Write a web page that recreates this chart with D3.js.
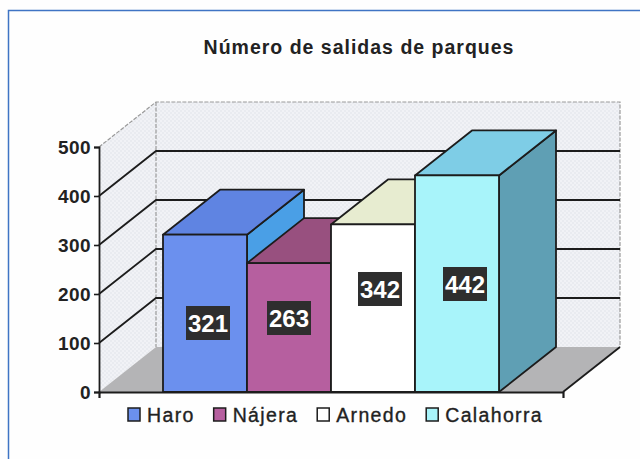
<!DOCTYPE html>
<html>
<head>
<meta charset="utf-8">
<script src="https://cdn.jsdelivr.net/npm/d3@7"></script>
<style>
html,body{margin:0;padding:0;background:#fefefe;overflow:hidden}
text{font-family:"Liberation Sans",Arial,sans-serif;fill:#222}
</style>
</head>
<body>
<script>
var categories=["Haro","Nájera","Arnedo","Calahorra"];
var values=[321,263,342,442];
var yTicks=[0,100,200,300,400,500];
var titleText="Número de salidas de parques";

var frontColors=["#6b90ee","#b65f9f","#ffffff","#a8f4fa"];
var topColors=["#5f84e2","#98507f","#e7ecd0","#7ecde6"];
var sideColors=["#4a9fe6","#7a3d66","#d8d8d8","#5f9fb4"];
// hand placed label centres, relative to the middle of each bar / to the floor
var labelDx=[3,0,7,8];
var labelY=[323,318,289,284];

var depthX=57,depthY=-45;
var line="#1c1c1c";

var svg=d3.select("body").append("svg").attr("width",640).attr("height",459);

var defs=svg.append("defs");
var pat=defs.append("pattern").attr("id","dots").attr("width",4).attr("height",4).attr("patternUnits","userSpaceOnUse");
pat.append("rect").attr("width",4).attr("height",4).attr("fill","#e9ebf0");
pat.append("circle").attr("cx",1).attr("cy",1).attr("r",1).attr("fill","#f4f5f8");
pat.append("circle").attr("cx",3).attr("cy",3).attr("r",1).attr("fill","#f4f5f8");

// scanned page frame
svg.append("path").attr("d","M8.5,459V10.5H640").attr("fill","none")
	.attr("stroke","#3f74c4").attr("stroke-width",1.5);

svg.append("text").attr("x",359).attr("y",54).attr("text-anchor","middle")
	.style("font-size","19.5px").style("font-weight","bold").style("letter-spacing","1px")
	.text(titleText);

var y=d3.scaleLinear().domain([0,500]).range([392,147]);
var xPlot=d3.scaleLinear().domain([0,1]).range([99,563]);
var x=d3.scaleBand().domain(categories).range([163,499]);

function pts(a){return a.map(function(p){return p.join(",")}).join(" ")}

var x0=xPlot(0),x1=xPlot(1),y0=y(0),yTop=y(500);

// walls and floor
svg.append("polygon").attr("fill","url(#dots)")
	.attr("points",pts([[x0+depthX,yTop+depthY],[x1+depthX,yTop+depthY],[x1+depthX,y0+depthY],[x0+depthX,y0+depthY]]));
svg.append("polygon").attr("fill","url(#dots)")
	.attr("points",pts([[x0,yTop],[x0+depthX,yTop+depthY],[x0+depthX,y0+depthY],[x0,y0]]));
svg.append("polygon").attr("fill","#b4b4b6")
	.attr("points",pts([[x0,y0],[x1,y0],[x1+depthX,y0+depthY],[x0+depthX,y0+depthY]]));

svg.append("path").attr("fill","none").attr("stroke","#9a9a9a").attr("stroke-width",1.2)
	.attr("stroke-dasharray","4,1.5")
	.attr("d","M"+x0+","+yTop+"L"+(x0+depthX)+","+(yTop+depthY)+"H"+(x1+depthX)+"V"+(y0+depthY)+
		"M"+(x0+depthX)+","+(yTop+depthY)+"V"+(y0+depthY));

// gridlines along side wall and back wall
svg.selectAll(".grid").data(yTicks.filter(function(d){return d>0&&d<500})).enter().append("path")
	.attr("class","grid").attr("fill","none").attr("stroke",line).attr("stroke-width",1.8)
	.attr("d",function(d){
		return "M"+x0+","+y(d)+"l"+depthX+","+depthY+"H"+(x1+depthX);
	});

// floor front edges
svg.append("path").attr("fill","none").attr("stroke",line).attr("stroke-width",1.8)
	.attr("d","M"+x1+","+y0+"L"+(x1+depthX)+","+(y0+depthY));

// bars, left to right so each one covers the side of the previous
var bars=svg.selectAll(".bar").data(categories).enter().append("g").attr("class","bar")
	.attr("stroke",line).attr("stroke-width",1.8).attr("stroke-linejoin","round");
bars.append("polygon").attr("fill",function(d,i){return sideColors[i]})
	.attr("points",function(d,i){
		var r=x(d)+x.bandwidth(),t=y(values[i]);
		return pts([[r,t],[r+depthX,t+depthY],[r+depthX,y0+depthY],[r,y0]]);
	});
bars.append("polygon").attr("fill",function(d,i){return topColors[i]})
	.attr("points",function(d,i){
		var l=x(d),r=l+x.bandwidth(),t=y(values[i]);
		return pts([[l,t],[l+depthX,t+depthY],[r+depthX,t+depthY],[r,t]]);
	});
bars.append("rect").attr("fill",function(d,i){return frontColors[i]})
	.attr("x",function(d){return x(d)}).attr("width",x.bandwidth())
	.attr("y",function(d,i){return y(values[i])})
	.attr("height",function(d,i){return y0-y(values[i])});

// data labels
var labels=svg.selectAll(".val").data(categories).enter().append("g").attr("class","val")
	.attr("transform",function(d,i){
		return "translate("+(x(d)+x.bandwidth()/2+labelDx[i])+","+labelY[i]+")";
	});
labels.append("rect").attr("x",-22).attr("y",-17).attr("width",44).attr("height",34).attr("fill","#2e2e2e");
labels.append("text").attr("text-anchor","middle").attr("y",9)
	.style("font-size","24px").style("font-weight","bold").style("fill","#fff")
	.text(function(d,i){return values[i]});

// axes
var yAxis=svg.append("g").attr("transform","translate("+x0+",0)")
	.call(d3.axisLeft(y).tickValues(yTicks).tickSize(5).tickPadding(3));
yAxis.selectAll("text").style("font-size","19px").style("font-weight","bold").style("letter-spacing","0.4px");
var xAxis=svg.append("g").attr("transform","translate(0,"+y0+")")
	.call(d3.axisBottom(xPlot).tickValues([0,1]).tickSize(6).tickFormat(""));
svg.selectAll(".domain").attr("stroke",line).attr("stroke-width",1.8);
svg.selectAll(".tick line").attr("stroke",line).attr("stroke-width",1.6);

// legend, laid out from the measured text widths
var legendX=128;
categories.forEach(function(c,i){
	var g=svg.append("g").attr("transform","translate("+legendX+",408)");
	g.append("rect").attr("width",12).attr("height",13).attr("fill",frontColors[i])
		.attr("stroke",line).attr("stroke-width",1.5);
	var t=g.append("text").attr("x",19).attr("y",13.5)
		.style("font-size","19.5px").style("letter-spacing","1.35px")
		.style("stroke","#222").style("stroke-width","0.35px")
		.text(c);
	legendX+=19+t.node().getComputedTextLength()+19;
});
</script>
</body>
</html>
